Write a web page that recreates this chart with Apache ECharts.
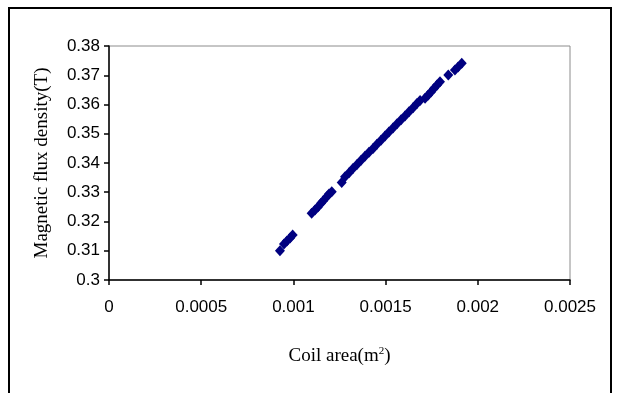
<!DOCTYPE html>
<html>
<head>
<meta charset="utf-8">
<script src="https://cdn.jsdelivr.net/npm/echarts@6/dist/echarts.min.js"></script>
<style>
  html, body { margin: 0; padding: 0; background: #fff; }
  #chart { width: 619px; height: 393px; }
</style>
</head>
<body>
<div id="chart"></div>
<script>
// Coil area (m^2) of each measured coil
const coilArea = [
  0.000927, 0.000949, 0.000965, 0.000982, 0.000996,
  0.001099, 0.001117, 0.001133, 0.001150, 0.001162,
  0.001181, 0.001193, 0.001208,
  0.001262, 0.001280, 0.001302, 0.001323, 0.001345, 0.001367, 0.001388,
  0.001410, 0.001432, 0.001453, 0.001475, 0.001497, 0.001518, 0.001540,
  0.001562, 0.001584, 0.001605, 0.001627, 0.001649, 0.001670, 0.001687,
  0.001714, 0.001730, 0.001746, 0.001762, 0.001779, 0.001795,
  0.001840, 0.001876, 0.001893, 0.001913
];
// Magnetic flux density (T) measured for each coil
const fluxDensity = [
  0.3100, 0.3123, 0.3133, 0.3144, 0.3154,
  0.3228, 0.3239, 0.3250, 0.3262, 0.3271,
  0.3285, 0.3294, 0.3302,
  0.3333, 0.3353, 0.3367, 0.3381, 0.3395, 0.3409, 0.3423,
  0.3437, 0.3450, 0.3464, 0.3478, 0.3492, 0.3506, 0.3520,
  0.3534, 0.3548, 0.3561, 0.3575, 0.3589, 0.3603, 0.3614,
  0.3621, 0.3632, 0.3643, 0.3655, 0.3667, 0.3678,
  0.3701, 0.3718, 0.3728, 0.3741
];
const xTickLabels = ['0', '0.0005', '0.001', '0.0015', '0.002', '0.0025'];
const yTickLabels = ['0.3', '0.31', '0.32', '0.33', '0.34', '0.35', '0.36', '0.37', '0.38'];

const points = coilArea.map((a, i) => [a, fluxDensity[i]]);

const tickFont = "'Liberation Sans Narrow', 'Liberation Sans', Arial, sans-serif";
const titleFont = "'Liberation Serif', 'Times New Roman', serif";

const chart = echarts.init(document.getElementById('chart'), null, { renderer: 'canvas' });
chart.setOption({
  animation: false,
  backgroundColor: '#fff',
  graphic: [{
    type: 'rect',
    shape: { x: 9, y: 8, width: 602, height: 420 },
    style: { fill: 'none', stroke: '#000', lineWidth: 2 },
    silent: true
  }],
  grid: {
    left: 109, top: 46, right: 49, bottom: 113,
    show: true, borderColor: '#8c8c8c', borderWidth: 1
  },
  xAxis: {
    type: 'value',
    min: 0, max: 0.0025, interval: 0.0005,
    name: 'Coil area(m{sup|2})',
    nameLocation: 'middle',
    nameGap: 66,
    nameTextStyle: {
      fontFamily: titleFont, fontSize: 19, color: '#000',
      rich: { sup: { fontFamily: titleFont, fontSize: 11, color: '#000', verticalAlign: 'top', padding: [0, 0, 9, 0] } }
    },
    axisLine: { lineStyle: { color: '#000', width: 1.5 } },
    axisTick: { show: true, length: 5, lineStyle: { color: '#000', width: 1.5 } },
    axisLabel: {
      margin: 19, fontFamily: tickFont, fontSize: 17, color: '#000',
      formatter: (v) => xTickLabels[Math.round(v / 0.0005)]
    },
    splitLine: { show: false }
  },
  yAxis: {
    type: 'value',
    min: 0.3, max: 0.38, interval: 0.01,
    name: 'Magnetic flux density(T)',
    nameLocation: 'middle',
    nameGap: 57,
    nameTextStyle: { fontFamily: titleFont, fontSize: 19, color: '#000' },
    axisLine: { show: true, lineStyle: { color: '#000', width: 1.5 } },
    axisTick: { show: true, length: 5, lineStyle: { color: '#000', width: 1.5 } },
    axisLabel: {
      margin: 9, fontFamily: tickFont, fontSize: 17, color: '#000',
      formatter: (v) => yTickLabels[Math.round((v - 0.3) / 0.01)]
    },
    splitLine: { show: false }
  },
  series: [{
    type: 'scatter',
    data: points,
    symbol: 'diamond',
    symbolSize: [10, 11],
    itemStyle: { color: '#000080', opacity: 1 }
  }]
});
</script>
</body>
</html>
